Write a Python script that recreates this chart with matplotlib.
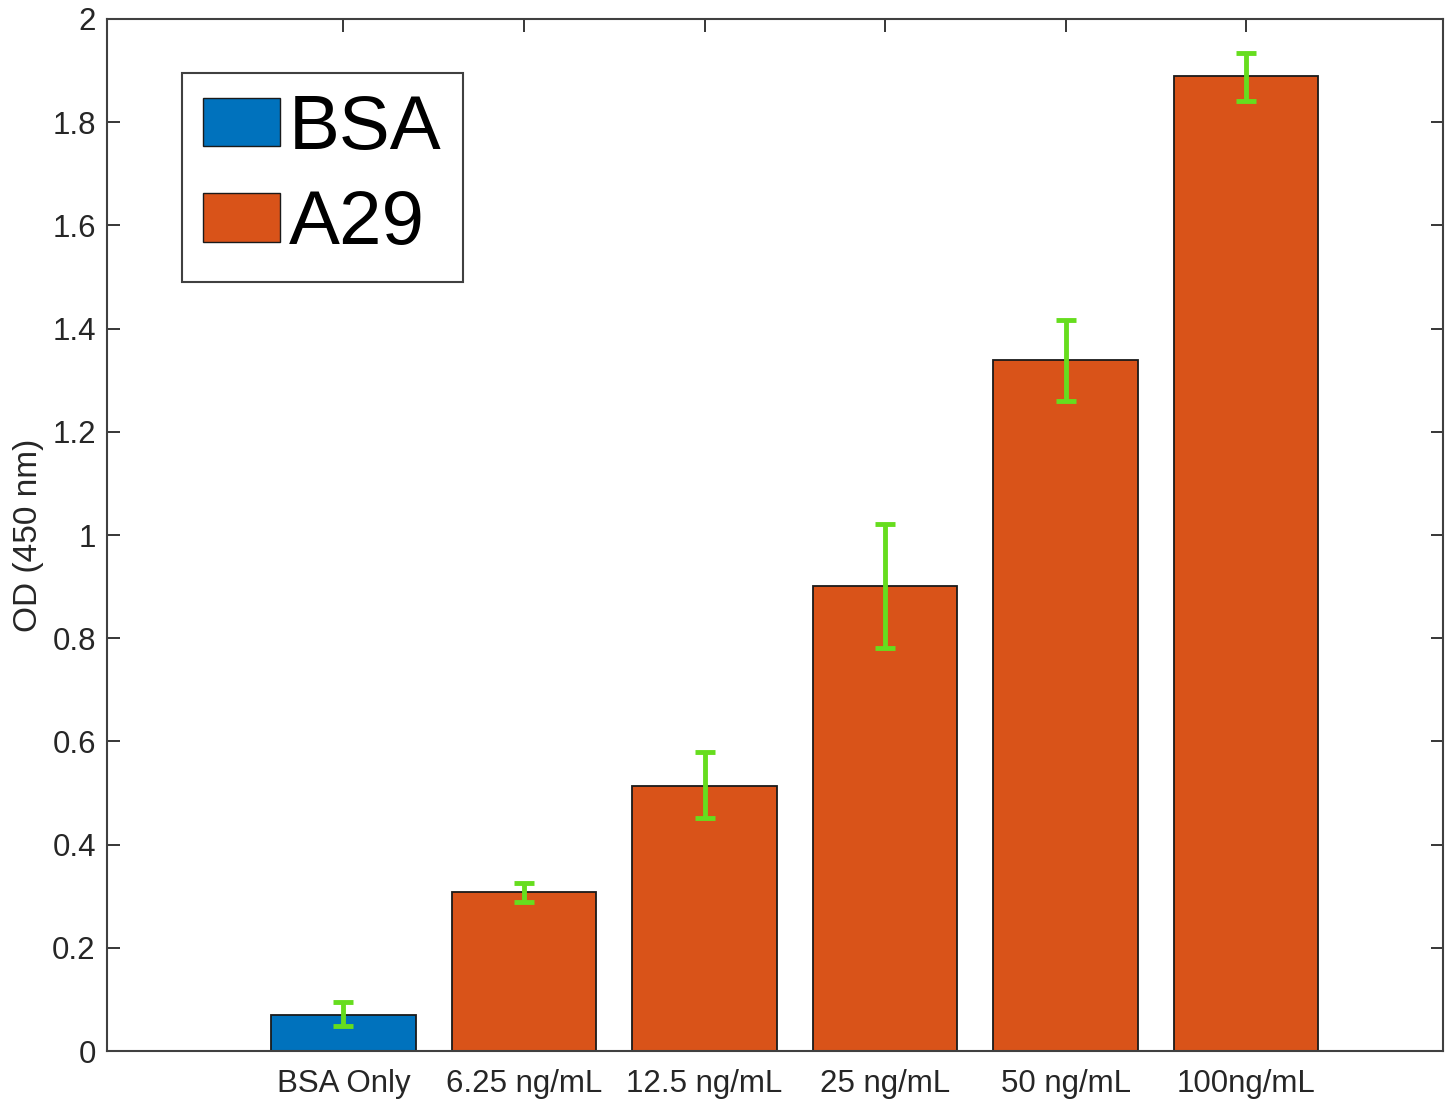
import matplotlib
matplotlib.use("Agg")
import matplotlib.pyplot as plt
from matplotlib.patches import Patch
import numpy as np

plt.rcParams['font.family'] = ['Liberation Sans', 'DejaVu Sans']

# data
categories = ["BSA Only", "6.25 ng/mL", "12.5 ng/mL", "25 ng/mL", "50 ng/mL", "100ng/mL"]
od_mean = [0.070, 0.308, 0.514, 0.901, 1.339, 1.890]
err_low = [0.048, 0.289, 0.452, 0.781, 1.260, 1.841]
err_high = [0.095, 0.326, 0.579, 1.021, 1.417, 1.934]
groups = ["BSA", "A29", "A29", "A29", "A29", "A29"]
yticks = [0, 0.2, 0.4, 0.6, 0.8, 1, 1.2, 1.4, 1.6, 1.8, 2]
ytick_labels = ["0", "0.2", "0.4", "0.6", "0.8", "1", "1.2", "1.4", "1.6", "1.8", "2"]

colors = {"BSA": "#0072BD", "A29": "#D95319"}
err_color = "#66DD1E"

fig = plt.figure(figsize=(14.53, 11.03), dpi=100)
ax = fig.add_axes([0.0736, 0.0471, 0.9195, 0.9357])

x = np.arange(1, len(categories) + 1)
mean = np.array(od_mean)
lo = mean - np.array(err_low)
hi = np.array(err_high) - mean

ax.bar(x, mean, width=0.8, color=[colors[g] for g in groups],
       edgecolor="#1a1a1a", linewidth=1.3, zorder=2)
ax.errorbar(x, mean, yerr=[lo, hi], fmt="none", ecolor=err_color,
            elinewidth=3.5, capsize=7, capthick=3.5, zorder=3)

ax.set_xlim(-0.31, 7.09)
ax.set_ylim(0, 2)
ax.set_xticks(x)
ax.set_xticklabels(categories, fontsize=22.5, color="#262626")
ax.set_yticks(yticks)
ax.set_yticklabels(ytick_labels, fontsize=22.5, color="#262626")
ax.set_ylabel("OD (450 nm)", fontsize=24, color="#262626", labelpad=6)

ax.tick_params(direction="in", length=9, width=1.3, color="#262626",
               top=True, right=True, pad=8)
ax.tick_params(axis="x", pad=13)
for s in ax.spines.values():
    s.set_color("#404040")
    s.set_linewidth(1.5)

handles = [Patch(facecolor=colors["BSA"], edgecolor="#1a1a1a", label="BSA"),
           Patch(facecolor=colors["A29"], edgecolor="#1a1a1a", label="A29")]
leg = ax.legend(handles=handles, loc="upper left", bbox_to_anchor=(0.056, 0.948),
                borderaxespad=0, fontsize=55, fancybox=False, framealpha=1,
                handlelength=1.0, handleheight=0.6, handletextpad=0.12,
                labelspacing=0.32, borderpad=0.28)
leg.get_frame().set_edgecolor("#404040")
leg.get_frame().set_linewidth(1.5)

fig.savefig("out.png", dpi=100)
